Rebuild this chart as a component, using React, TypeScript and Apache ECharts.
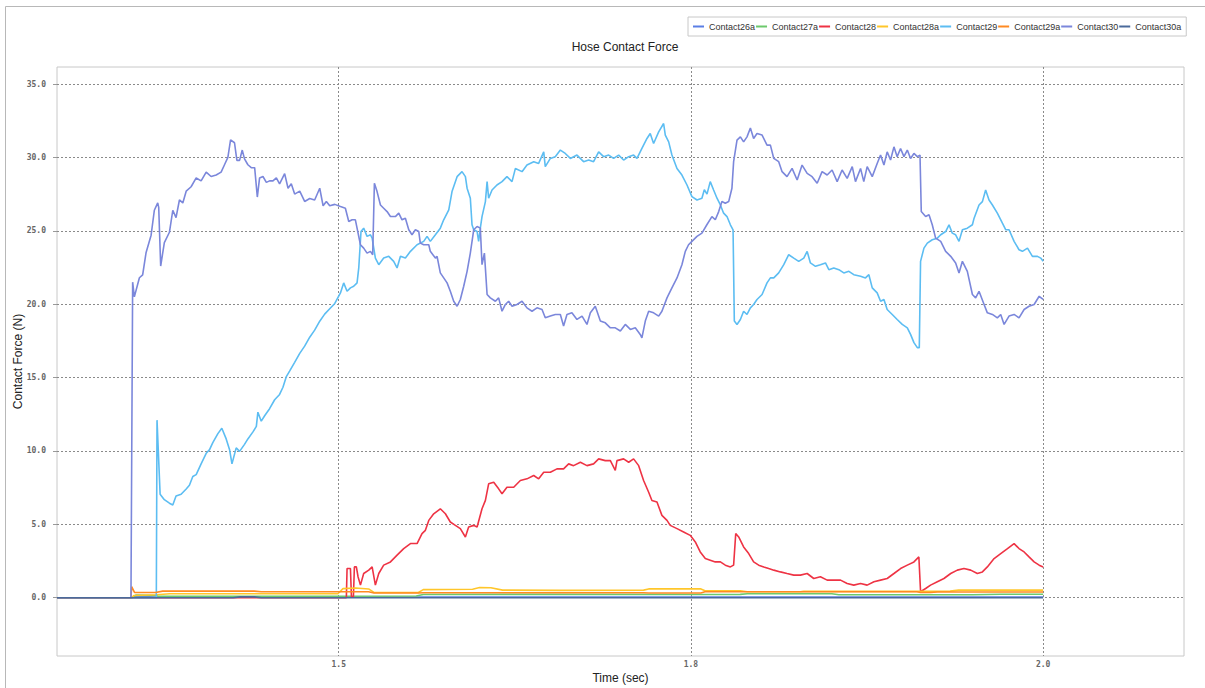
import React, { useEffect, useRef } from "react";
import * as echarts from "echarts";

type Pt = [number, number];

const seriesNames = [
  "Contact26a",
  "Contact27a",
  "Contact28",
  "Contact28a",
  "Contact29",
  "Contact29a",
  "Contact30",
  "Contact30a",
];

const seriesColors = [
  "#5b7ee5",
  "#6cc96c",
  "#ee3344",
  "#ffc62a",
  "#5cbdf2",
  "#ff8a22",
  "#7b87db",
  "#4b6a9b",
];

const timeTicks = [1.5, 1.75, 2.0];
const forceTicks = [0, 5, 10, 15, 20, 25, 30, 35];

const contact26a: Pt[] = [
  [1.3, 0], [1.353, 0], [1.355, 0.1], [1.37, 0.05], [1.5, 0.05], [1.75, 0.05], [2.0, 0.05],
];

const contact27a: Pt[] = [
  [1.3, 0], [1.353, 0], [1.356, 0.18], [1.37, 0.15], [1.372, 0.1], [1.5, 0.1], [1.555, 0.12],
  [1.56, 0.22], [1.65, 0.23], [1.75, 0.22], [1.785, 0.23], [1.79, 0.27], [1.85, 0.27],
  [1.855, 0.2], [1.95, 0.2], [1.97, 0.24], [2.0, 0.24],
];

const contact28: Pt[] = [
  [1.3, 0], [1.5054, 0], [1.5059, 1.99], [1.5083, 1.99], [1.5090, 0.07], [1.5104, 0.07],
  [1.5111, 2.1], [1.5125, 2.1], [1.5137, 1.43], [1.5154, 0.86], [1.5177, 1.65], [1.5213, 1.88],
  [1.5237, 2.1], [1.526, 0.86], [1.5284, 1.65], [1.5319, 2.22], [1.5367, 2.44], [1.5414, 2.9],
  [1.5461, 3.35], [1.5509, 3.69], [1.5556, 3.69], [1.5591, 4.37], [1.5615, 4.59], [1.5639, 5.27],
  [1.5674, 5.72], [1.5721, 6.06], [1.5757, 5.72], [1.5792, 5.16], [1.5828, 4.93], [1.5863, 4.71],
  [1.5899, 4.14], [1.5922, 4.82], [1.5958, 4.93], [1.5982, 4.82], [1.6017, 6.06], [1.6041, 6.63],
  [1.6064, 7.76], [1.61, 7.87], [1.6135, 7.42], [1.6159, 7.08], [1.6194, 7.53], [1.6242, 7.53],
  [1.6289, 7.99], [1.6336, 8.1], [1.6384, 8.33], [1.6419, 8.1], [1.6455, 8.55], [1.6502, 8.55],
  [1.6549, 8.78], [1.6596, 8.78], [1.6632, 9.12], [1.6667, 9.0], [1.6715, 9.23], [1.6762, 9.0],
  [1.6809, 9.12], [1.6845, 9.46], [1.6892, 9.34], [1.6928, 9.34], [1.6963, 8.67], [1.6975, 9.34],
  [1.7022, 9.46], [1.7058, 9.23], [1.7093, 9.46], [1.7129, 9.0], [1.7164, 7.99], [1.72, 7.19],
  [1.7223, 6.63], [1.7259, 6.52], [1.7294, 5.61], [1.733, 5.27], [1.7353, 4.93], [1.7401, 4.71],
  [1.7448, 4.48], [1.7495, 4.25], [1.7531, 3.8], [1.7566, 3.12], [1.7602, 2.67], [1.7637, 2.56],
  [1.7673, 2.44], [1.7709, 2.44], [1.7744, 2.22], [1.778, 2.1], [1.7803, 2.22], [1.7818, 4.37],
  [1.7839, 4.14], [1.7874, 3.46], [1.791, 3.01], [1.7945, 2.44], [1.7981, 2.22], [1.8017, 2.1],
  [1.8052, 1.99], [1.8088, 1.88], [1.8135, 1.76], [1.8182, 1.65], [1.823, 1.54], [1.8277, 1.54],
  [1.8325, 1.65], [1.8372, 1.31], [1.8419, 1.43], [1.8467, 1.2], [1.8514, 1.2], [1.8562, 1.2],
  [1.8609, 0.97], [1.8656, 0.86], [1.8704, 0.97], [1.8751, 0.86], [1.8799, 1.09], [1.8846, 1.2],
  [1.8893, 1.31], [1.8941, 1.65], [1.8988, 1.99], [1.9036, 2.22], [1.9083, 2.44], [1.9118, 2.78],
  [1.913, 0.41], [1.9166, 0.63], [1.9201, 0.86], [1.9249, 1.09], [1.9296, 1.31], [1.9344, 1.65],
  [1.9391, 1.88], [1.9438, 1.99], [1.9486, 1.88], [1.9533, 1.65], [1.9569, 1.76], [1.9604, 2.1],
  [1.9652, 2.67], [1.9699, 3.01], [1.9747, 3.35], [1.9794, 3.69], [1.9829, 3.35], [1.9865, 3.12],
  [1.99, 2.78], [1.9936, 2.44], [1.9972, 2.22], [2.0, 2.1],
];

const contact28a: Pt[] = [
  [1.3, 0], [1.353, 0], [1.3545, 0.15], [1.371, 0.2], [1.38, 0.27], [1.4994, 0.27], [1.503, 0.62],
  [1.512, 0.66], [1.5212, 0.6], [1.525, 0.36], [1.5565, 0.36], [1.56, 0.55], [1.595, 0.58],
  [1.6, 0.7], [1.608, 0.68], [1.6163, 0.52], [1.6571, 0.5], [1.7164, 0.52], [1.72, 0.6],
  [1.7567, 0.61], [1.76, 0.48], [1.785, 0.48], [1.79, 0.41], [1.8276, 0.41], [1.83, 0.43],
  [1.9104, 0.43], [1.934, 0.45], [1.94, 0.52], [2.0, 0.52],
];

const contact29: Pt[] = [
  [1.3, 0], [1.3705, 0], [1.371, 12.1], [1.3732, 7.05], [1.3762, 6.68], [1.3798, 6.44],
  [1.3822, 6.32], [1.3845, 6.93], [1.3881, 7.05], [1.3917, 7.41], [1.394, 7.66], [1.3964, 8.26],
  [1.3988, 8.39], [1.4023, 9.12], [1.4059, 9.84], [1.4083, 10.09], [1.4106, 10.57], [1.4142, 11.18],
  [1.417, 11.55], [1.4201, 10.82], [1.4225, 10.09], [1.4242, 9.12], [1.4272, 10.21], [1.4296, 9.97],
  [1.4331, 10.45], [1.4355, 10.82], [1.4391, 11.3], [1.4415, 11.67], [1.4426, 12.64], [1.445, 12.03],
  [1.4474, 12.4], [1.4509, 12.88], [1.4545, 13.49], [1.458, 13.85], [1.4604, 14.34], [1.4628, 15.07],
  [1.4651, 15.44], [1.4687, 16.04], [1.4723, 16.65], [1.4758, 17.14], [1.4794, 17.75], [1.4829, 18.23],
  [1.4865, 18.84], [1.49, 19.32], [1.4936, 19.69], [1.4972, 20.05], [1.5012, 20.77], [1.5035, 21.45],
  [1.5059, 20.88], [1.5083, 21.11], [1.5106, 21.22], [1.513, 21.45], [1.5142, 22.47], [1.5158, 24.95],
  [1.5177, 25.18], [1.5201, 24.62], [1.5225, 24.73], [1.5237, 24.5], [1.526, 23.14], [1.5284, 22.69],
  [1.5319, 23.14], [1.5355, 23.26], [1.539, 22.92], [1.5414, 22.47], [1.5438, 23.26], [1.5473, 23.14],
  [1.5509, 23.6], [1.5556, 24.05], [1.5603, 24.28], [1.5627, 24.62], [1.565, 24.28], [1.5686, 24.73],
  [1.5721, 25.18], [1.5745, 25.75], [1.5781, 26.43], [1.5804, 27.67], [1.584, 28.69], [1.5875, 29.03],
  [1.5899, 28.69], [1.5911, 27.9], [1.5934, 27.22], [1.5946, 25.41], [1.5958, 25.07], [1.5982, 24.95],
  [1.5993, 24.28], [1.6005, 25.18], [1.6017, 25.97], [1.6041, 26.99], [1.6053, 28.35], [1.6064, 27.22],
  [1.6088, 27.78], [1.6123, 28.12], [1.6159, 28.35], [1.6194, 28.69], [1.623, 28.35], [1.6254, 29.25],
  [1.6301, 29.03], [1.6336, 29.48], [1.6384, 29.71], [1.6419, 29.59], [1.6455, 30.38], [1.6466, 29.37],
  [1.6502, 29.93], [1.6537, 30.05], [1.6573, 30.5], [1.6608, 30.27], [1.6644, 29.93], [1.6691, 30.16],
  [1.6738, 29.71], [1.6774, 29.82], [1.6809, 29.71], [1.6845, 30.38], [1.688, 30.05], [1.6916, 30.16],
  [1.6951, 29.93], [1.6987, 30.16], [1.7022, 29.82], [1.7058, 30.05], [1.7093, 30.16], [1.7117, 29.93],
  [1.7152, 30.61], [1.7188, 31.29], [1.7211, 31.63], [1.7235, 30.95], [1.7271, 31.74], [1.7306, 32.31],
  [1.7318, 31.52], [1.7342, 31.06], [1.7365, 30.16], [1.7401, 29.25], [1.7436, 28.8], [1.7472, 28.12],
  [1.7507, 27.33], [1.7543, 27.1], [1.7578, 27.22], [1.7595, 27.8], [1.7614, 27.5], [1.7637, 28.35],
  [1.7661, 27.78], [1.7685, 27.22], [1.7709, 26.76], [1.7732, 26.2], [1.7756, 25.97], [1.778, 25.41],
  [1.7799, 25.07], [1.7808, 18.85], [1.7827, 18.62], [1.7851, 18.96], [1.7874, 19.52], [1.7898, 19.3],
  [1.7922, 19.75], [1.7945, 19.98], [1.7969, 20.32], [1.8005, 20.66], [1.804, 21.45], [1.8064, 21.79],
  [1.8088, 21.79], [1.8123, 22.13], [1.8159, 22.69], [1.8194, 23.37], [1.823, 23.14], [1.8265, 22.92],
  [1.8301, 23.14], [1.8325, 23.6], [1.8348, 22.81], [1.8384, 22.58], [1.8419, 22.69], [1.8455, 22.81],
  [1.8479, 22.35], [1.8514, 22.47], [1.855, 22.35], [1.8585, 22.13], [1.8621, 22.24], [1.8656, 22.01],
  [1.8704, 21.9], [1.8739, 21.79], [1.8763, 22.01], [1.8787, 21.11], [1.8822, 20.77], [1.8846, 20.2],
  [1.887, 20.32], [1.8893, 19.64], [1.8929, 19.3], [1.8964, 18.96], [1.9, 18.62], [1.9036, 18.39],
  [1.9059, 17.94], [1.9083, 17.38], [1.9107, 17.04], [1.9121, 17.04], [1.913, 22.92], [1.9154, 23.82],
  [1.9178, 24.16], [1.9213, 24.39], [1.9249, 24.5], [1.9273, 24.73], [1.9308, 24.95], [1.9332, 25.41],
  [1.9355, 24.84], [1.9379, 24.73], [1.9403, 24.28], [1.9427, 25.07], [1.9462, 25.18], [1.9498, 25.41],
  [1.951, 25.86], [1.9545, 26.76], [1.9569, 26.99], [1.9592, 27.78], [1.9616, 27.1], [1.964, 26.76],
  [1.9675, 26.2], [1.9711, 25.52], [1.9735, 25.07], [1.9758, 25.07], [1.9794, 24.28], [1.9829, 23.71],
  [1.9853, 23.6], [1.9889, 23.82], [1.9924, 23.26], [1.996, 23.26], [1.9983, 23.14], [2.0, 22.92],
];

const contact29a: Pt[] = [
  [1.3, 0], [1.3525, 0], [1.353, 0.75], [1.355, 0.36], [1.37, 0.36], [1.375, 0.45], [1.44, 0.45],
  [1.445, 0.41], [1.5, 0.41], [1.5212, 0.41], [1.525, 0.32], [1.5565, 0.32], [1.56, 0.34],
  [1.7164, 0.34], [1.72, 0.32], [1.757, 0.32], [1.76, 0.41], [1.9104, 0.41], [1.913, 0.36],
  [1.92, 0.36], [1.925, 0.39], [2.0, 0.39],
];

const contact30: Pt[] = [
  [1.3, 0], [1.3525, 0], [1.3537, 21.5], [1.3549, 20.5], [1.3585, 21.8], [1.3608, 22.0], [1.3632, 23.5],
  [1.3668, 24.7], [1.3691, 26.4], [1.3715, 26.9], [1.3722, 26.6], [1.3736, 22.6], [1.3762, 24.2],
  [1.3798, 24.9], [1.3822, 26.4], [1.3845, 25.9], [1.3869, 27.1], [1.3893, 26.9], [1.3917, 27.7],
  [1.3952, 28.0], [1.3988, 28.6], [1.4023, 28.4], [1.4059, 29.0], [1.4094, 28.7], [1.413, 28.8],
  [1.4165, 29.0], [1.4189, 29.5], [1.4213, 30.0], [1.4232, 31.2], [1.426, 31.0], [1.4277, 29.8],
  [1.4296, 29.8], [1.4315, 30.5], [1.4331, 29.9], [1.4355, 29.5], [1.4379, 29.3], [1.4403, 29.3],
  [1.4422, 27.3], [1.4438, 28.6], [1.4462, 28.7], [1.4486, 28.3], [1.4509, 28.4], [1.4533, 28.4],
  [1.4557, 28.6], [1.458, 28.2], [1.4616, 28.9], [1.464, 27.9], [1.4663, 28.2], [1.4687, 27.5],
  [1.4723, 27.7], [1.4758, 27.0], [1.4794, 27.2], [1.4829, 27.1], [1.4865, 27.9], [1.4889, 26.7],
  [1.4912, 27.0], [1.4936, 26.7], [1.4972, 26.8], [1.5012, 26.65], [1.5047, 26.54], [1.5071, 25.63],
  [1.5095, 25.75], [1.5118, 25.75], [1.513, 25.18], [1.5154, 24.05], [1.5177, 23.82], [1.5201, 23.48],
  [1.5225, 23.6], [1.5241, 23.37], [1.5253, 28.24], [1.5272, 27.67], [1.5296, 26.76], [1.5319, 26.54],
  [1.5343, 26.31], [1.5367, 25.97], [1.5402, 25.97], [1.5426, 26.2], [1.5449, 25.75], [1.5473, 25.86],
  [1.5497, 25.07], [1.552, 24.73], [1.5544, 25.07], [1.5568, 24.95], [1.5579, 24.16], [1.5603, 24.05],
  [1.5639, 24.05], [1.565, 23.6], [1.5686, 23.14], [1.5698, 23.26], [1.5721, 22.13], [1.5745, 21.79],
  [1.5769, 21.45], [1.5792, 20.88], [1.5816, 20.2], [1.584, 19.86], [1.5863, 20.32], [1.5887, 21.22],
  [1.5911, 22.24], [1.5934, 23.48], [1.5958, 25.07], [1.5982, 25.29], [1.6005, 25.18], [1.6017, 22.69],
  [1.6034, 23.48], [1.6053, 20.66], [1.6076, 20.43], [1.6112, 20.2], [1.6135, 20.43], [1.6159, 19.52],
  [1.6183, 19.98], [1.6206, 20.2], [1.623, 19.86], [1.6265, 19.98], [1.6301, 20.2], [1.6336, 19.75],
  [1.6372, 19.52], [1.6407, 19.75], [1.6443, 19.64], [1.6466, 19.07], [1.6502, 19.19], [1.6537, 19.3],
  [1.6573, 19.3], [1.6596, 18.51], [1.662, 19.3], [1.6655, 19.41], [1.6691, 18.96], [1.6727, 19.19],
  [1.6762, 18.62], [1.6786, 19.41], [1.6821, 19.86], [1.6857, 18.85], [1.6892, 18.73], [1.6928, 18.39],
  [1.6963, 18.39], [1.6999, 18.17], [1.7034, 18.62], [1.707, 18.28], [1.7105, 18.39], [1.714, 17.94],
  [1.7152, 17.71], [1.7176, 18.85], [1.72, 19.52], [1.7235, 19.41], [1.7271, 19.19], [1.7294, 19.52],
  [1.733, 20.43], [1.7365, 21.11], [1.7401, 21.79], [1.7436, 22.69], [1.746, 23.6], [1.7483, 24.05],
  [1.7507, 24.28], [1.7543, 24.62], [1.7578, 24.84], [1.7613, 25.41], [1.7649, 25.97], [1.7673, 25.75],
  [1.7697, 26.31], [1.772, 26.99], [1.7744, 26.88], [1.7768, 26.99], [1.7791, 27.9], [1.7803, 29.71],
  [1.7827, 31.18], [1.7851, 31.4], [1.7874, 31.06], [1.7898, 31.4], [1.7922, 32.01], [1.7945, 31.29],
  [1.7969, 31.63], [1.8005, 31.52], [1.804, 30.84], [1.8064, 30.84], [1.8088, 29.93], [1.8123, 29.71],
  [1.8147, 29.03], [1.8182, 28.69], [1.8218, 29.25], [1.8254, 28.46], [1.8289, 29.48], [1.8325, 28.91],
  [1.836, 28.69], [1.8396, 28.24], [1.8431, 29.03], [1.8467, 28.8], [1.8502, 29.14], [1.8538, 28.35],
  [1.8573, 29.14], [1.8609, 28.57], [1.8645, 29.37], [1.8668, 28.35], [1.8704, 29.25], [1.8727, 28.35],
  [1.8751, 29.37], [1.8787, 28.69], [1.8822, 29.59], [1.8846, 30.16], [1.887, 29.48], [1.8893, 30.38],
  [1.8917, 29.82], [1.8941, 30.72], [1.8964, 30.05], [1.8988, 30.61], [1.9012, 30.05], [1.9036, 30.5],
  [1.9059, 29.93], [1.9083, 30.27], [1.9107, 30.05], [1.9126, 30.16], [1.9135, 26.31], [1.9166, 25.97],
  [1.919, 26.09], [1.9213, 25.41], [1.9237, 24.5], [1.9273, 24.28], [1.9308, 23.6], [1.9344, 23.26],
  [1.9379, 22.81], [1.9403, 22.13], [1.9427, 22.92], [1.9462, 22.24], [1.9498, 20.66], [1.9521, 20.43],
  [1.9545, 20.88], [1.9581, 19.98], [1.9604, 19.41], [1.964, 19.3], [1.9675, 19.07], [1.9699, 19.3],
  [1.9723, 18.62], [1.9758, 19.19], [1.9794, 19.3], [1.9829, 19.07], [1.9865, 19.64], [1.99, 19.86],
  [1.9936, 19.98], [1.9972, 20.54], [2.0, 20.32],
];

const contact30a: Pt[] = [
  [1.3, 0], [1.425, 0], [1.43, 0.06], [1.44, 0.06], [1.445, 0], [2.0, 0],
];

const seriesData: Pt[][] = [
  contact26a,
  contact27a,
  contact28,
  contact28a,
  contact29,
  contact29a,
  contact30,
  contact30a,
];

const labelFont = {
  fontFamily: "'DejaVu Sans Mono', monospace",
  fontWeight: "bold" as const,
  fontSize: 8,
  color: "#666",
};

const textFont = "'Liberation Sans', Arial, sans-serif";

export default function App() {
  const ref = useRef<HTMLDivElement>(null);

  useEffect(() => {
    document.body.style.margin = "0";
    if (!ref.current) return;
    const chart = echarts.init(ref.current, undefined, { renderer: "svg" });

    chart.setOption({
      animation: false,
      backgroundColor: "#ffffff",
      title: {
        text: "Hose Contact Force",
        left: 620,
        top: 36,
        textAlign: "center",
        textStyle: {
          fontFamily: textFont,
          fontSize: 12,
          fontWeight: "normal",
          color: "#222",
        },
      },
      legend: {
        data: seriesNames,
        left: 688,
        top: 17,
        icon: "rect",
        itemWidth: 11,
        itemHeight: 2,
        itemGap: 1,
        padding: [5, 5],
        borderColor: "#c8c8c8",
        borderWidth: 1,
        selectedMode: false,
        textStyle: {
          fontFamily: textFont,
          fontSize: 9,
          color: "#333",
        },
      },
      graphic: [
        {
          type: "rect",
          silent: true,
          shape: { x: 5.5, y: 6.5, width: 1400, height: 900 },
          style: { fill: "none", stroke: "#b8b8b8", lineWidth: 1 },
        },
      ],
      grid: {
        left: 57,
        top: 67,
        width: 1127,
        height: 589,
        outerBoundsMode: "none",
        containLabel: false,
        show: true,
        borderColor: "#c8c8c8",
        borderWidth: 1,
        backgroundColor: "transparent",
      },
      xAxis: {
        type: "value",
        min: 1.3,
        max: 2.1,
        name: "Time (sec)",
        nameLocation: "middle",
        nameGap: 16,
        nameMoveOverlap: false,
        nameTextStyle: {
          fontFamily: textFont,
          fontSize: 12,
          color: "#222",
        },
        axisLine: { show: false },
        axisTick: { show: false, customValues: timeTicks },
        axisLabel: {
          ...labelFont,
          margin: 4,
          customValues: timeTicks,
          formatter: (v: number) => v.toFixed(1),
        },
        splitLine: {
          show: true,
          lineStyle: { color: "#8a8a8a", type: [2, 2], width: 1 },
        },
      },
      yAxis: {
        type: "value",
        min: -3.97,
        max: 36.16,
        name: "Contact Force (N)",
        nameLocation: "middle",
        nameGap: 33,
        nameRotate: 90,
        nameMoveOverlap: false,
        nameTextStyle: {
          fontFamily: textFont,
          fontSize: 12,
          color: "#222",
        },
        axisLine: { show: false },
        axisTick: {
          show: true,
          length: 4,
          customValues: forceTicks,
          lineStyle: { color: "#999" },
        },
        axisLabel: {
          ...labelFont,
          margin: 11,
          customValues: forceTicks,
          formatter: (v: number) => v.toFixed(1),
        },
        splitLine: {
          show: true,
          lineStyle: { color: "#8a8a8a", type: [2, 2], width: 1 },
        },
      },
      series: seriesNames.map((name, i) => ({
        name,
        type: "line",
        data: seriesData[i],
        showSymbol: false,
        symbol: "none",
        color: seriesColors[i],
        lineStyle: { width: 1.6, color: seriesColors[i] },
      })),
    });

    return () => {
      chart.dispose();
    };
  }, []);

  return <div ref={ref} style={{ width: 1205, height: 688 }} />;
}
